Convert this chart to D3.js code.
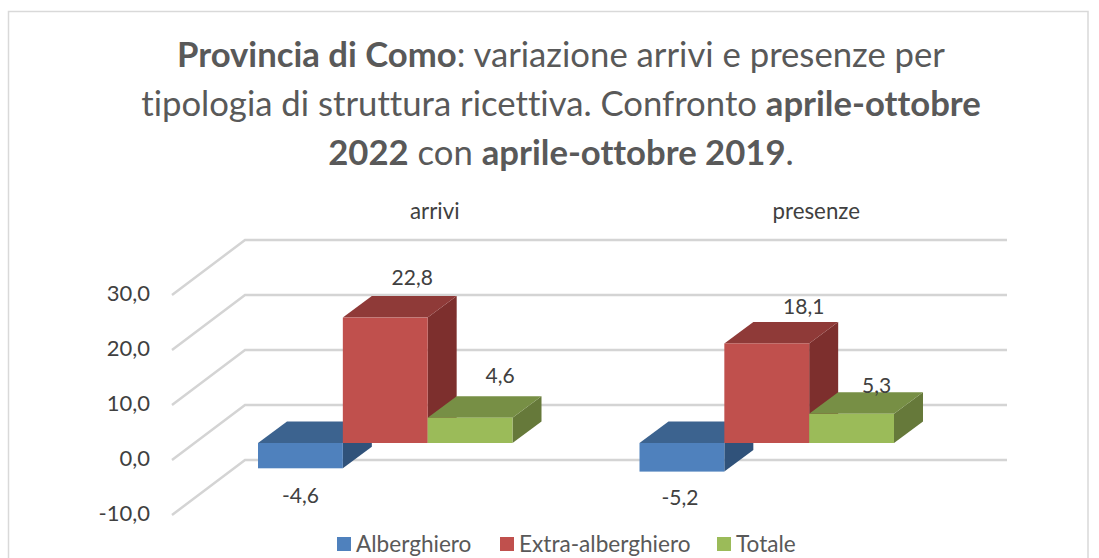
<!DOCTYPE html>
<html>
<head>
<meta charset="utf-8">
<script src="https://cdn.jsdelivr.net/npm/d3@7"></script>
<style>
  html, body { margin: 0; padding: 0; background: #fff; }
  svg { display: block; font-family: Lato, "Open Sans", sans-serif; font-variant-ligatures: none; }
</style>
</head>
<body>
<svg class="container_svg" width="1099" height="558"></svg>
<script>
const categories = ['arrivi', 'presenze'];
const seriesNames = ['Alberghiero', 'Extra-alberghiero', 'Totale'];
const alberghiero = [-4.6, -5.2];
const extraAlberghiero = [22.8, 18.1];
const totale = [4.6, 5.3];
const tickValues = [-10, 0, 10, 20, 30];
const titleLines = [
    [['Provincia di Como', true], [': variazione arrivi e presenze per', false]],
    [['tipologia di struttura ricettiva. Confronto ', false], ['aprile-ottobre', true]],
    [['2022', true], [' con ', false], ['aprile-ottobre 2019', true], ['.', false]]
];

const seriesValues = [alberghiero, extraAlberghiero, totale];
const fronts = ['#4f81bd', '#c0504d', '#9bbb59'];
const tops = ['#3c638f', '#8f3a38', '#778f45'];
const sides = ['#30527a', '#7d2f2d', '#66793a'];
const fmt = v => v.toFixed(1).replace('.', ',');

// depth of the floor, and of a bar, in screen pixels
const wallDx = 73, wallDy = -55;
const barDx = 29, barDy = -21.5;
// bars sit part way into the floor
const barOx = 22.5, barOy = -17;

const svg = d3.select('.container_svg');

svg.append('path')
    .attr('d', 'M1088,558V11.5H8.5V558')
    .attr('fill', 'none')
    .attr('stroke', '#d9d9d9')
    .attr('stroke-width', 1.5);

const y = d3.scaleLinear().domain([-10, 30]).range([515, 295]);
const x0 = d3.scaleBand().domain(categories).range([172, 935]);
const x1 = d3.scaleBand().domain(seriesNames).range([0, 254.5]);

// title
const title = svg.append('text').attr('text-anchor', 'middle').attr('fill', '#595959').attr('font-size', 34.7);
titleLines.forEach((line, i) => {
    const row = title.append('tspan').attr('x', 561).attr('y', 67 + i * 49);
    line.forEach(part => {
        row.append('tspan').attr('font-weight', part[1] ? 700 : 400).text(part[0]);
    });
});

// grid: side wall plus back wall
const grid = svg.append('g').attr('fill', 'none').attr('stroke', '#d4d4d4').attr('stroke-width', 2.5);
grid.selectAll('path')
    .data(tickValues)
    .join('path')
    .attr('d', d => {
        const p = d3.path();
        p.moveTo(172, y(d));
        p.lineTo(172 + wallDx, y(d) + wallDy);
        p.lineTo(1007, y(d) + wallDy);
        return p.toString();
    });

// y axis
const axis = svg.append('g')
    .attr('transform', 'translate(172,0)')
    .call(d3.axisLeft(y).tickValues(tickValues).tickFormat(fmt).tickSize(0).tickPadding(22));
axis.select('.domain').remove();
axis.selectAll('text')
    .attr('font-size', 22)
    .attr('font-family', 'Lato, "Open Sans", sans-serif')
    .attr('fill', '#404040')
    .attr('dy', '0.24em');

// category labels
svg.append('g').selectAll('text')
    .data(categories)
    .join('text')
    .attr('x', d => x0(d) + x0.bandwidth() / 2 + wallDx - 1)
    .attr('y', 219)
    .attr('text-anchor', 'middle')
    .attr('font-size', 22.3)
    .attr('fill', '#404040')
    .text(d => d);

// bars
const zero = y(0) + barOy;
const labelNudge = [[[0, 28], [27, -40], [30, -42]], [[-2, 26], [37, -36], [25, -28]]];

categories.forEach((cat, c) => {
    const left = x0(cat) + barOx + (x0.bandwidth() - x1.range()[1]) / 2;
    const g = svg.append('g');
    seriesNames.forEach((name, s) => {
        const v = seriesValues[s][c];
        const xa = left + x1(name), xb = xa + x1.bandwidth();
        const yTop = v >= 0 ? y(v) + barOy : zero;
        const yBot = v >= 0 ? zero : y(v) + barOy;

        g.append('polygon')
            .attr('points', [[xb, yTop], [xb + barDx, yTop + barDy], [xb + barDx, yBot + barDy], [xb, yBot]])
            .attr('fill', sides[s]);
        g.append('polygon')
            .attr('points', [[xa, yTop], [xa + barDx, yTop + barDy], [xb + barDx, yTop + barDy], [xb, yTop]])
            .attr('fill', tops[s]);
        g.append('rect')
            .attr('x', xa)
            .attr('y', yTop)
            .attr('width', xb - xa)
            .attr('height', yBot - yTop)
            .attr('fill', fronts[s]);
    });
    // labels last so they stay on top of the faces
    seriesNames.forEach((name, s) => {
        const v = seriesValues[s][c];
        const nudge = labelNudge[c][s];
        const edge = y(v) + barOy;
        g.append('text')
            .attr('x', left + x1(name) + x1.bandwidth() / 2 + nudge[0])
            .attr('y', edge + nudge[1] + 7)
            .attr('text-anchor', 'middle')
            .attr('font-size', 21)
            .attr('fill', '#404040')
            .text(fmt(v));
    });
});

// legend
const legendX = [337, 500, 717];
const legend = svg.append('g').selectAll('g')
    .data(seriesNames)
    .join('g')
    .attr('transform', (d, i) => `translate(${legendX[i]},537)`);
legend.append('rect')
    .attr('width', 14)
    .attr('height', 14)
    .attr('fill', (d, i) => fronts[i]);
legend.append('text')
    .attr('x', 19)
    .attr('y', 14.5)
    .attr('font-size', 22.6)
    .attr('fill', '#595959')
    .text(d => d);
</script>
</body>
</html>
